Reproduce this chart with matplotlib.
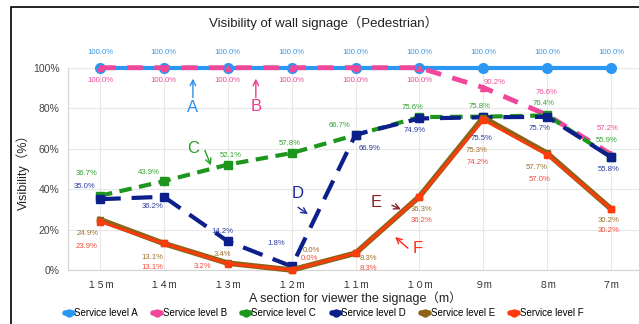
import matplotlib
matplotlib.use("Agg")
import matplotlib.pyplot as plt
from matplotlib.lines import Line2D
from matplotlib.patches import Rectangle

plt.rcParams['font.family'] = ['Liberation Sans', 'Noto Sans CJK JP', 'DejaVu Sans']

# distances (m)
sections = ['１５m', '１４m', '１３m', '１２m', '１１m', '１０m', '９m', '８m', '７m']

level_a = [100.0, 100.0, 100.0, 100.0, 100.0, 100.0, 100.0, 100.0, 100.0]
level_b = [100.0, 100.0, 100.0, 100.0, 100.0, 100.0, 90.2, 76.6, 57.2]
level_c = [36.7, 43.9, 52.1, 57.8, 66.7, 75.6, 75.8, 76.4, 55.9]
level_d = [35.0, 36.2, 14.2, 1.8, 66.9, 74.9, 75.5, 75.7, 55.8]
level_e = [24.9, 13.1, 3.4, 0.0, 8.3, 36.3, 75.3, 57.7, 30.2]
level_f = [23.9, 13.1, 3.2, 0.0, 8.3, 36.2, 74.2, 57.0, 30.2]

# label offsets in pixels (dx, dy) from each point
off_a = [(0, 15)] * 9
off_b = [(0, -13)] * 6 + [(11, 5), (-1, 23), (-3, 26)]
off_c = [(-13, 22), (-15, 9), (3, 9), (-2, 10), (-16, 10), (-7, 10), (-4, 10), (-4, 12), (-4, 16)]
off_d = [(-15, 13), (-11, -10), (-5, 10), (-15, 23), (14, -14), (-5, -12), (-2, -21), (-8, -12), (-2, -12)]
off_e = [(-12, -14), (-12, -14), (-5, 9), (20, 19), (13, -5), (2, -13), (-7, -33), (-10, -14), (-2, -12)]
off_f = [(-13, -25), (-12, -24), (-25, -3), (18, 11), (13, -15), (2, -24), (-6, -43), (-8, -25), (-2, -22)]

series = [
    # name, values, offsets, line colour, label colour, style, lw, marker, ms
    ('Service level A', level_a, off_a, '#2a98f0', '#3a9ae8', '-', 3.0, 'o', 7),
    ('Service level B', level_b, off_b, '#f0479a', '#ee4a9c', (0, (3.2, 2.4)), 3.5, '^', 5),
    ('Service level C', level_c, off_c, '#1e961e', '#33a333', (0, (3.0, 1.8)), 3.0, 's', 6),
    ('Service level D', level_d, off_d, '#0c1f8a', '#2a3aa0', (0, (5.0, 2.6)), 3.0, 's', 6),
    ('Service level E', level_e, off_e, '#8b6418', '#a0702a', '-', 4.0, 's', 4),
    ('Service level F', level_f, off_f, '#ff3a0d', '#f04a3a', '-', 2.0, 's', 5),
]

fig = plt.figure(figsize=(6.39, 3.24), dpi=100)
ax = fig.add_axes([68 / 639, 1 - 270 / 324, 575 / 639, (270 - 67.7) / 324])

x = list(range(len(sections)))
handles = []
for z, (name, vals, offs, col, lcol, ls, lw, mk, ms) in enumerate(series):
    ax.plot(x, vals, color=col, linestyle=ls, lw=lw, marker=mk, ms=ms,
            zorder=3 + z, clip_on=False)
    for xi, v, (dx, dy) in zip(x, vals, offs):
        ax.annotate(f'{v:.1f}%', (xi, v), xytext=(dx, dy), textcoords='offset pixels',
                    ha='center', va='center', fontsize=5.6, color=lcol, zorder=20)
    handles.append(Line2D([], [], color=col, lw=4, marker='o', ms=5,
                          solid_capstyle='round', label=name))

ax.set_xlim(-0.5, 8.5)
ax.set_ylim(0, 100)
ax.set_xticks(x)
ax.set_xticklabels(sections, fontsize=7, color='#333333')
ax.set_yticks([0, 20, 40, 60, 80, 100])
ax.set_yticklabels(['0%', '20%', '40%', '60%', '80%', '100%'], fontsize=7.5, color='#444444')
ax.tick_params(length=0, pad=7)
ax.tick_params(axis='y', pad=6)
ax.grid(True, color='#e8e8e8', lw=0.8)
ax.set_axisbelow(True)
for s in ['top', 'right']:
    ax.spines[s].set_visible(False)
for s in ['left', 'bottom']:
    ax.spines[s].set_color('#d4d4d4')

ax.set_xlabel('A section for viewer the signage（m）', fontsize=9, color='#222222', labelpad=1)
ax.set_ylabel('Visibility（%）', fontsize=9, color='#222222', labelpad=2)

# letter callouts
callouts = [
    ('A', (1.455, 80.3), (1.455, 85.2), (1.455, 94.6), '#2e8fe8'),
    ('B', (2.44, 80.8), (2.44, 85.2), (2.44, 94.6), '#ee3c8c'),
    ('C', (1.455, 60.1), (1.643, 59.1), (1.737, 51.7), '#2a9a2a'),
    ('D', (3.10, 37.9), (3.10, 31.0), (3.255, 27.6), '#1a2a9a'),
    ('E', (4.33, 33.5), (4.57, 32.0), (4.71, 30.0), '#8b2020'),
    ('F', (4.98, 10.8), (4.82, 10.8), (4.62, 16.3), '#ff2a1a'),
]
for letter, pos, tail, head, col in callouts:
    ax.text(pos[0], pos[1], letter, fontsize=12, color=col, ha='center', va='center', zorder=25)
    ax.annotate('', xy=head, xytext=tail,
                arrowprops=dict(arrowstyle='->', color=col, lw=1.0, shrinkA=0, shrinkB=0),
                zorder=25)

fig.text(0.506, 0.929, 'Visibility of wall signage（Pedestrian）', fontsize=9.5,
         color='#222222', ha='center', va='center')

fig.legend(handles=handles, loc='center', bbox_to_anchor=(0.507, 0.034), ncol=6,
           frameon=False, fontsize=7, handlelength=0.8, handletextpad=0.15,
           columnspacing=1.6, borderpad=0)

fig.patches.append(Rectangle((11 / 639, -0.05), 1.0, 1 - 7 / 324 + 0.05,
                             transform=fig.transFigure, fill=False,
                             edgecolor='black', lw=1.2))

fig.savefig('out.png', dpi=100)
